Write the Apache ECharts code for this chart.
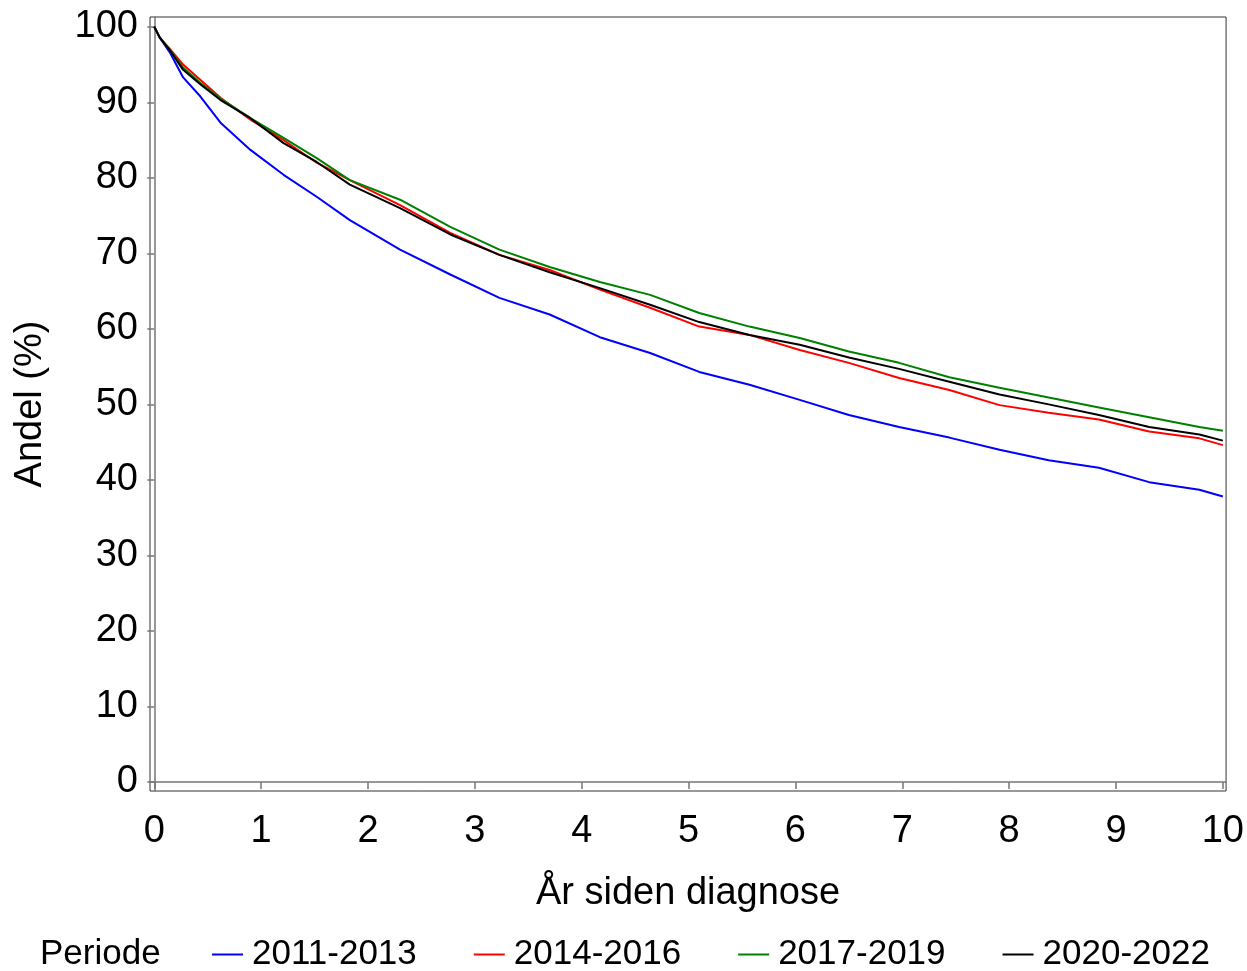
<!DOCTYPE html>
<html>
<head>
<meta charset="utf-8">
<script src="https://cdn.jsdelivr.net/npm/echarts@6/dist/echarts.min.js"></script>
<style>html,body{margin:0;padding:0;background:#fff;}#c{width:1247px;height:971px;}</style>
</head>
<body>
<div id="c"></div>
<script>
const years = [0, 0.05, 0.15, 0.27, 0.43, 0.62, 0.90, 1.21, 1.52, 1.83, 2.30, 2.77, 3.23, 3.70, 4.17, 4.64, 5.10, 5.57, 6.04, 6.50, 6.97, 7.44, 7.91, 8.37, 8.84, 9.31, 9.78, 10.0];
const p2011 = [100, 98.6, 96.5, 93.3, 90.8, 87.3, 83.7, 80.4, 77.5, 74.4, 70.5, 67.2, 64.1, 61.9, 58.9, 56.8, 54.3, 52.6, 50.6, 48.6, 47.0, 45.6, 44.0, 42.6, 41.6, 39.7, 38.7, 37.8];
const p2014 = [100, 98.6, 97.0, 95.0, 93.0, 90.6, 87.7, 85.0, 82.0, 79.7, 76.4, 72.7, 69.8, 67.8, 65.2, 62.8, 60.3, 59.2, 57.2, 55.5, 53.5, 51.9, 49.9, 48.9, 48.0, 46.4, 45.5, 44.6];
const p2017 = [100, 98.6, 96.9, 94.6, 92.6, 90.5, 87.9, 85.3, 82.6, 79.7, 77.1, 73.5, 70.5, 68.2, 66.2, 64.5, 62.1, 60.3, 58.8, 57.0, 55.5, 53.6, 52.2, 50.9, 49.6, 48.3, 47.0, 46.5];
const p2020 = [100, 98.6, 96.8, 94.3, 92.4, 90.3, 87.9, 84.6, 82.1, 79.1, 76.0, 72.5, 69.8, 67.5, 65.4, 63.2, 60.9, 59.2, 57.9, 56.2, 54.7, 53.0, 51.3, 50.0, 48.6, 47.0, 46.0, 45.2];
const seriesNames = ['2011-2013', '2014-2016', '2017-2019', '2020-2022'];
const seriesColors = ['#0000ff', '#ff0000', '#008000', '#000000'];
const xTicks = [0, 1, 2, 3, 4, 5, 6, 7, 8, 9, 10];
const yTicks = [0, 10, 20, 30, 40, 50, 60, 70, 80, 90, 100];
const xTitle = 'År siden diagnose';
const yTitle = 'Andel (%)';
const legendTitle = 'Periode';

const allValues = [p2011, p2014, p2017, p2020];
const font = 'Liberation Sans, Arial, sans-serif';

const chart = echarts.init(document.getElementById('c'), null, {renderer: 'canvas'});
chart.setOption({
  animation: false,
  backgroundColor: '#fff',
  title: {
    text: legendTitle, left: 35, top: 932,
    textStyle: {fontFamily: font, fontSize: 35, fontWeight: 'normal', color: '#000'}
  },
  legend: {
    left: 207, top: 932, itemWidth: 31, itemHeight: 2, itemGap: 57, icon: 'rect',
    textStyle: {fontFamily: font, fontSize: 35, color: '#000', padding: [0, 0, 0, 4]},
    data: seriesNames
  },
  grid: {left: 150, right: 20, top: 17, bottom: 180, show: true, borderColor: '#333', borderWidth: 1, containLabel: false},
  xAxis: {
    type: 'value', min: -0.04, max: 10.03,
    name: xTitle, nameLocation: 'middle', nameGap: 84,
    nameTextStyle: {fontFamily: font, fontSize: 38, color: '#000'},
    axisLine: {show: true, lineStyle: {color: '#777', width: 1.5}},
    axisTick: {show: true, length: 7, customValues: xTicks, lineStyle: {color: '#777', width: 1.5}},
    axisLabel: {customValues: xTicks, fontFamily: font, fontSize: 38, color: '#000', margin: 22},
    splitLine: {show: false}
  },
  yAxis: {
    type: 'value', min: -1.2, max: 101.3,
    name: yTitle, nameLocation: 'middle', nameGap: 100,
    nameTextStyle: {fontFamily: font, fontSize: 38, color: '#000'},
    axisLine: {show: true, lineStyle: {color: '#777', width: 1.5}},
    axisTick: {show: true, length: 7, customValues: yTicks, lineStyle: {color: '#777', width: 1.5}},
    axisLabel: {customValues: yTicks, fontFamily: font, fontSize: 38, color: '#000', margin: 12},
    splitLine: {show: false}
  },
  series: seriesNames.map((n, i) => ({
    name: n, type: 'line', symbol: 'none', smooth: false,
    color: seriesColors[i],
    itemStyle: {color: seriesColors[i]},
    lineStyle: {color: seriesColors[i], width: 2},
    data: years.map((t, k) => [t, allValues[i][k]])
  }))
});
</script>
</body>
</html>
